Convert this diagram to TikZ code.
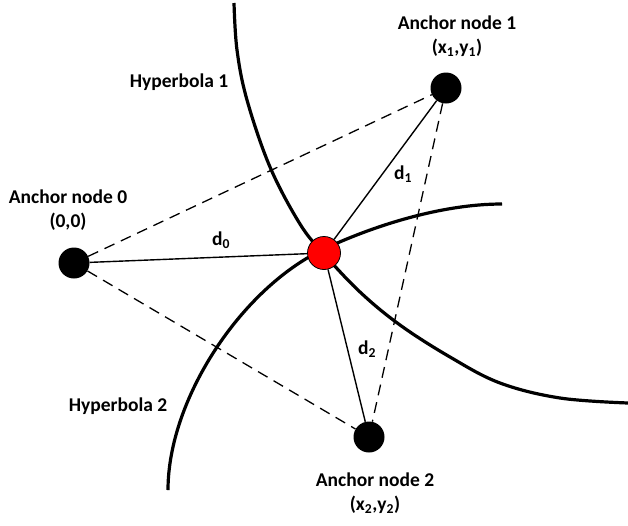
\documentclass[tikz,border=0pt]{standalone}
\usepackage{fontspec}
\setmainfont{Carlito}
\usetikzlibrary{positioning}

\begin{document}
\begin{tikzpicture}[x=1pt, y=-1pt, anchor node/.style={circle, fill=black, inner sep=0pt, minimum size=31pt}, target node/.style={circle, draw=black, fill=red, line width=0.8pt, inner sep=0pt, minimum size=33pt}, every node/.style={font=\fontsize{19.5}{24.5}\selectfont\bfseries, align=center}, hyperbola/.style={line width=3.2pt}, dist line/.style={line width=1.4pt}, link line/.style={line width=1.3pt, dash pattern=on 11pt off 7pt}]
\useasboundingbox (0,0) rectangle (628,525);

% the two hyperbolas cross at the unknown position
\draw[hyperbola] plot[smooth, tension=0.6] coordinates {(234,3) (237,50) (247,100) (270,167) (300,224) (324,254) (360,292) (400,325) (450,357) (500,383) (560,398) (628,403)};
\draw[hyperbola] (168,490) .. controls (168,400) and (240,290) .. (322,250) .. controls (370,227) and (440,204) .. (502,204);

\node [anchor node] (a0) at (74,263) {};
\node [anchor node] (a1) at (446,88) {};
\node [anchor node] (a2) at (369,437) {};
\node [target node] (p) at (324,253) {};

\node (l0) at (68,210) {Anchor node 0\\(0,0)};
\node (l1) at (457,36) {Anchor node 1\\(x\textsubscript{1},y\textsubscript{1})};
\node (l2) at (375,493) {Anchor node 2\\(x\textsubscript{2},y\textsubscript{2})};
\node (h1) at (179,82) {Hyperbola 1};
\node (h2) at (118,406) {Hyperbola 2};

\draw[link line] (a0) -- (a1);
\draw[link line] (a0) -- (a2);
\draw[link line] (a1) -- (a2);
\draw[dist line] (p) -- (a0);
\draw[dist line] (p) -- (a1);
\draw[dist line] (p) -- (a2);

\node (d0) at (221,240) {d\textsubscript{0}};
\node (d1) at (403,174) {d\textsubscript{1}};
\node (d2) at (367,349) {d\textsubscript{2}};
\end{tikzpicture}
\end{document}
